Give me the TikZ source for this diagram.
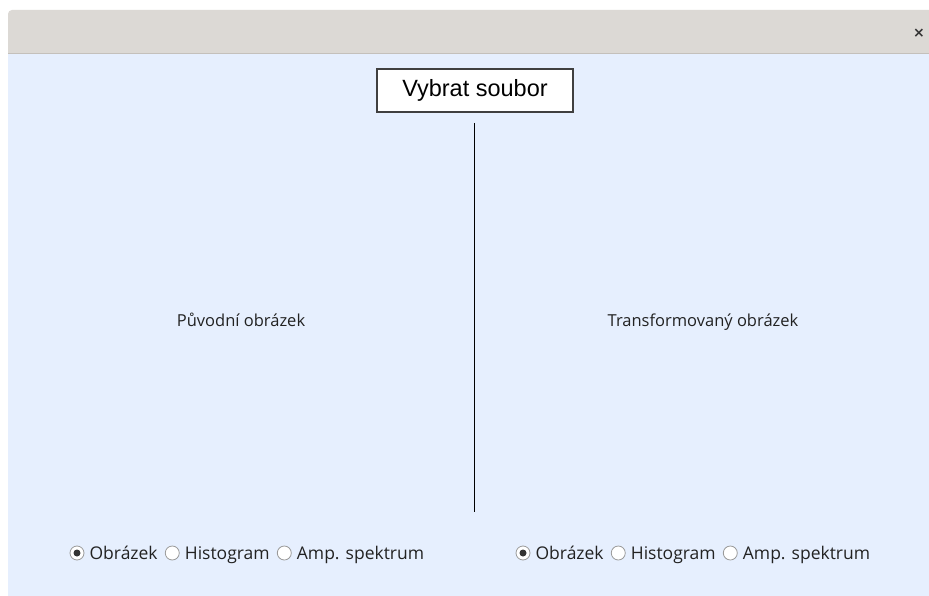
\documentclass[tikz,border=0pt]{standalone}
\usepackage{fontspec}
\setmainfont{Open Sans}
\newfontfamily\btnfont{Liberation Sans}
\newfontfamily\symfont{DejaVu Sans}
\usetikzlibrary{positioning}
\definecolor{winbg}{HTML}{E6EFFE}
\definecolor{titlebg}{HTML}{DCD9D5}
\definecolor{titleline}{HTML}{C4C0BB}
\definecolor{radioline}{HTML}{9A9A9A}
\definecolor{labeltext}{HTML}{222222}
\tikzset{
  radio/.style={circle, draw=radioline, fill=white, line width=0.8pt, minimum size=14pt, inner sep=0pt},
  radiolabel/.style={right=5pt of #1, inner sep=0pt, text height=14pt, text depth=1.5pt, font=\fontsize{17.5}{21}\selectfont, text=labeltext},
  viewlabel/.style={inner sep=0pt, text height=12pt, text depth=4pt, font=\fontsize{16.5}{19}\selectfont, text=labeltext}
}
\begin{document}
\begin{tikzpicture}[x=1pt, y=-1pt]
\useasboundingbox (0,0) rectangle (929,596);
\fill[white] (0,0) rectangle (929,596);
% window
\fill[winbg] (8,54) rectangle (929,596);
\fill[titlebg, rounded corners=4pt] (8,10) rectangle (935,54);
\fill[titlebg] (8,30) rectangle (929,54);
\draw[titleline, line width=1pt] (8,53.5) -- (929,53.5);
\node[inner sep=0pt, font=\symfont\bfseries\fontsize{14}{14}\selectfont, text=black!80] (close) at (919,33) {×};
% button and separator
\node[draw=black!75, fill=white, line width=1.5pt, minimum width=196pt, minimum height=43pt, inner sep=0pt,
      font=\btnfont\fontsize{23.5}{26}\selectfont] (choose) at (475,90.5) {Vybrat soubor};
\coordinate (sepTop) at (474.5,123);
\coordinate (sepBot) at (474.5,512);
\draw[line width=1.4pt] (sepTop) -- (sepBot);
% views
\node[viewlabel] (orig) at (241,322) {Původní obrázek};
\node[viewlabel] (trans) at (703,322) {Transformovaný obrázek};
% radio rows
\node[radio] (lImg) at (77,553) {};
\fill[black!80] (lImg) circle (3.5pt);
\node[radiolabel=lImg] (lImgT) {Obrázek};
\node[radio, right=7pt of lImgT] (lHist) {};
\node[radiolabel=lHist] (lHistT) {Histogram};
\node[radio, right=7pt of lHistT] (lAmp) {};
\node[radiolabel=lAmp] (lAmpT) {Amp. spektrum};
\node[radio] (rImg) at (523,553) {};
\fill[black!80] (rImg) circle (3.5pt);
\node[radiolabel=rImg] (rImgT) {Obrázek};
\node[radio, right=7pt of rImgT] (rHist) {};
\node[radiolabel=rHist] (rHistT) {Histogram};
\node[radio, right=7pt of rHistT] (rAmp) {};
\node[radiolabel=rAmp] (rAmpT) {Amp. spektrum};
\end{tikzpicture}
\end{document}
